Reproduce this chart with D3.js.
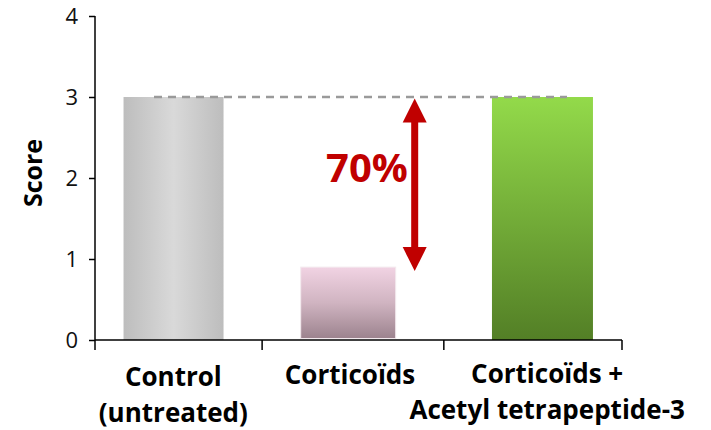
<!DOCTYPE html>
<html><head><meta charset="utf-8">
<script src="https://cdn.jsdelivr.net/npm/d3@7"></script>
<style>body{margin:0;background:#fff}svg{display:block}</style>
</head><body>
<svg id="c" width="711" height="430"></svg>
<script>
const categories = ["Control|(untreated)", "Corticoïds", "Corticoïds +|Acetyl tetrapeptide-3"];
const scores = [3.0, 0.9, 3.0];
const yTicks = [0, 1, 2, 3, 4];
const reductionLabel = "70%";
const yTitle = "Score";

const svg = d3.select("#c");
const FONT = "'Open Sans', 'Liberation Sans', sans-serif";
const x0 = 95, x1 = 622, yTop = 16, yBot = 340;
const x = d3.scaleBand().domain(categories).range([x0, x1]).padding(0);
const y = d3.scaleLinear().domain([0, 4]).range([yBot, yTop]);

const defs = svg.append("defs");
const gGray = defs.append("linearGradient").attr("id", "gGray").attr("x1", 0).attr("x2", 1).attr("y1", 0).attr("y2", 0);
[[0, "#bdbdbd"], [0.5, "#d9d9d9"], [1, "#bdbdbd"]].forEach(s => gGray.append("stop").attr("offset", s[0]).attr("stop-color", s[1]));
const gPink = defs.append("linearGradient").attr("id", "gPink").attr("x1", 0).attr("x2", 0).attr("y1", 0).attr("y2", 1);
[[0, "#f1d3e3"], [0.5, "#d0b4c1"], [1, "#9c838e"]].forEach(s => gPink.append("stop").attr("offset", s[0]).attr("stop-color", s[1]));
const gGreen = defs.append("linearGradient").attr("id", "gGreen").attr("x1", 0).attr("x2", 0).attr("y1", 0).attr("y2", 1);
[[0, "#93da4a"], [1, "#537f26"]].forEach(s => gGreen.append("stop").attr("offset", s[0]).attr("stop-color", s[1]));
const fills = ["url(#gGray)", "url(#gPink)", "url(#gGreen)"];
const offsets = [-9.3, -10.3, 8.3];
const widths = [100, 95, 101];
const barX = (i) => x(categories[i]) + x.bandwidth() / 2 - widths[i] / 2 + offsets[i];

// bars
svg.selectAll("rect.bar").data(scores).enter().append("rect")
  .attr("class", "bar")
  .attr("x", (d, i) => barX(i))
  .attr("width", (d, i) => widths[i])
  .attr("y", d => y(d))
  .attr("height", (d, i) => y(0) - y(d) - (i === 1 ? 1.5 : 0))
  .attr("fill", (d, i) => fills[i])
  .attr("stroke", (d, i) => i === 1 ? "#f3eaee" : "none")
  .attr("stroke-width", 1);

// dashed reference line at control level
svg.append("line")
  .attr("x1", 154).attr("x2", 567)
  .attr("y1", y(scores[0])).attr("y2", y(scores[0]))
  .attr("stroke", "#9a9a9a").attr("stroke-width", 2.4).attr("stroke-dasharray", "8,6");

// axes
const yAxis = d3.axisLeft(y).tickValues(yTicks).tickFormat(d3.format("d")).tickSize(6).tickPadding(11);
const gy = svg.append("g").attr("transform", `translate(${x0},0)`).call(yAxis);
gy.select(".domain").attr("stroke", "#000").attr("stroke-width", 1.5).attr("d", `M0,${yTop}V${yBot}`);
gy.selectAll(".tick line").attr("stroke", "#000").attr("stroke-width", 1.5);
gy.selectAll(".tick text").attr("font-family", FONT).attr("font-size", 22).attr("fill", "#111");

const gx = svg.append("g").attr("transform", `translate(0,${yBot})`);
gx.append("line").attr("x1", x0).attr("x2", x1).attr("y1", 0).attr("y2", 0).attr("stroke", "#000").attr("stroke-width", 1.5);
// category separators: midway between neighbouring bars, plus the axis ends
const bounds = [x0];
for (let i = 0; i < categories.length - 1; i++) {
  bounds.push((barX(i) + widths[i] + barX(i + 1)) / 2);
}
bounds.push(x1);
gx.selectAll("line.tk").data(bounds).enter().append("line").attr("class", "tk")
  .attr("x1", d => d).attr("x2", d => d).attr("y1", 0).attr("y2", 10)
  .attr("stroke", "#000").attr("stroke-width", 1.5);

const labelDx = [-9.5, -8.5, 13];
categories.forEach((c, i) => {
  const lines = c.split("|");
  const cx = x(c) + x.bandwidth() / 2 + labelDx[i];
  const t = svg.append("text")
    .attr("text-anchor", "middle")
    .attr("font-family", FONT).attr("font-weight", "bold").attr("font-size", 26).attr("fill", "#000");
  lines.forEach((l, j) => {
    t.append("tspan").attr("x", cx)
      .attr("y", (lines.length === 1 ? 384 : (i === 0 ? 386 : 383)) + j * 36).text(l);
  });
});

// y title
svg.append("text")
  .attr("transform", "translate(42,173) rotate(-90)")
  .attr("text-anchor", "middle")
  .attr("font-family", FONT).attr("font-weight", "bold").attr("font-size", 25).attr("fill", "#000")
  .text(yTitle);

// double arrow
const ax = 414.7;
const aTop = y(scores[0]) + 1.5, aBot = y(scores[1]) + 4;
const head = 24, shaft = 7;
const arrow = svg.append("g").attr("fill", "#c00000");
arrow.append("rect").attr("x", ax - shaft / 2).attr("y", aTop + head - 2).attr("width", shaft).attr("height", aBot - aTop - 2 * head + 4);
arrow.append("path").attr("d", `M${ax},${aTop}L${ax - head / 2},${aTop + head}L${ax + head / 2},${aTop + head}Z`);
arrow.append("path").attr("d", `M${ax},${aBot}L${ax - head / 2},${aBot - head}L${ax + head / 2},${aBot - head}Z`);

svg.append("text")
  .attr("x", 367).attr("y", 182)
  .attr("text-anchor", "middle")
  .attr("font-family", FONT).attr("font-weight", "bold").attr("font-size", 40).attr("fill", "#c00000")
  .text(reductionLabel);
</script>
</body></html>
